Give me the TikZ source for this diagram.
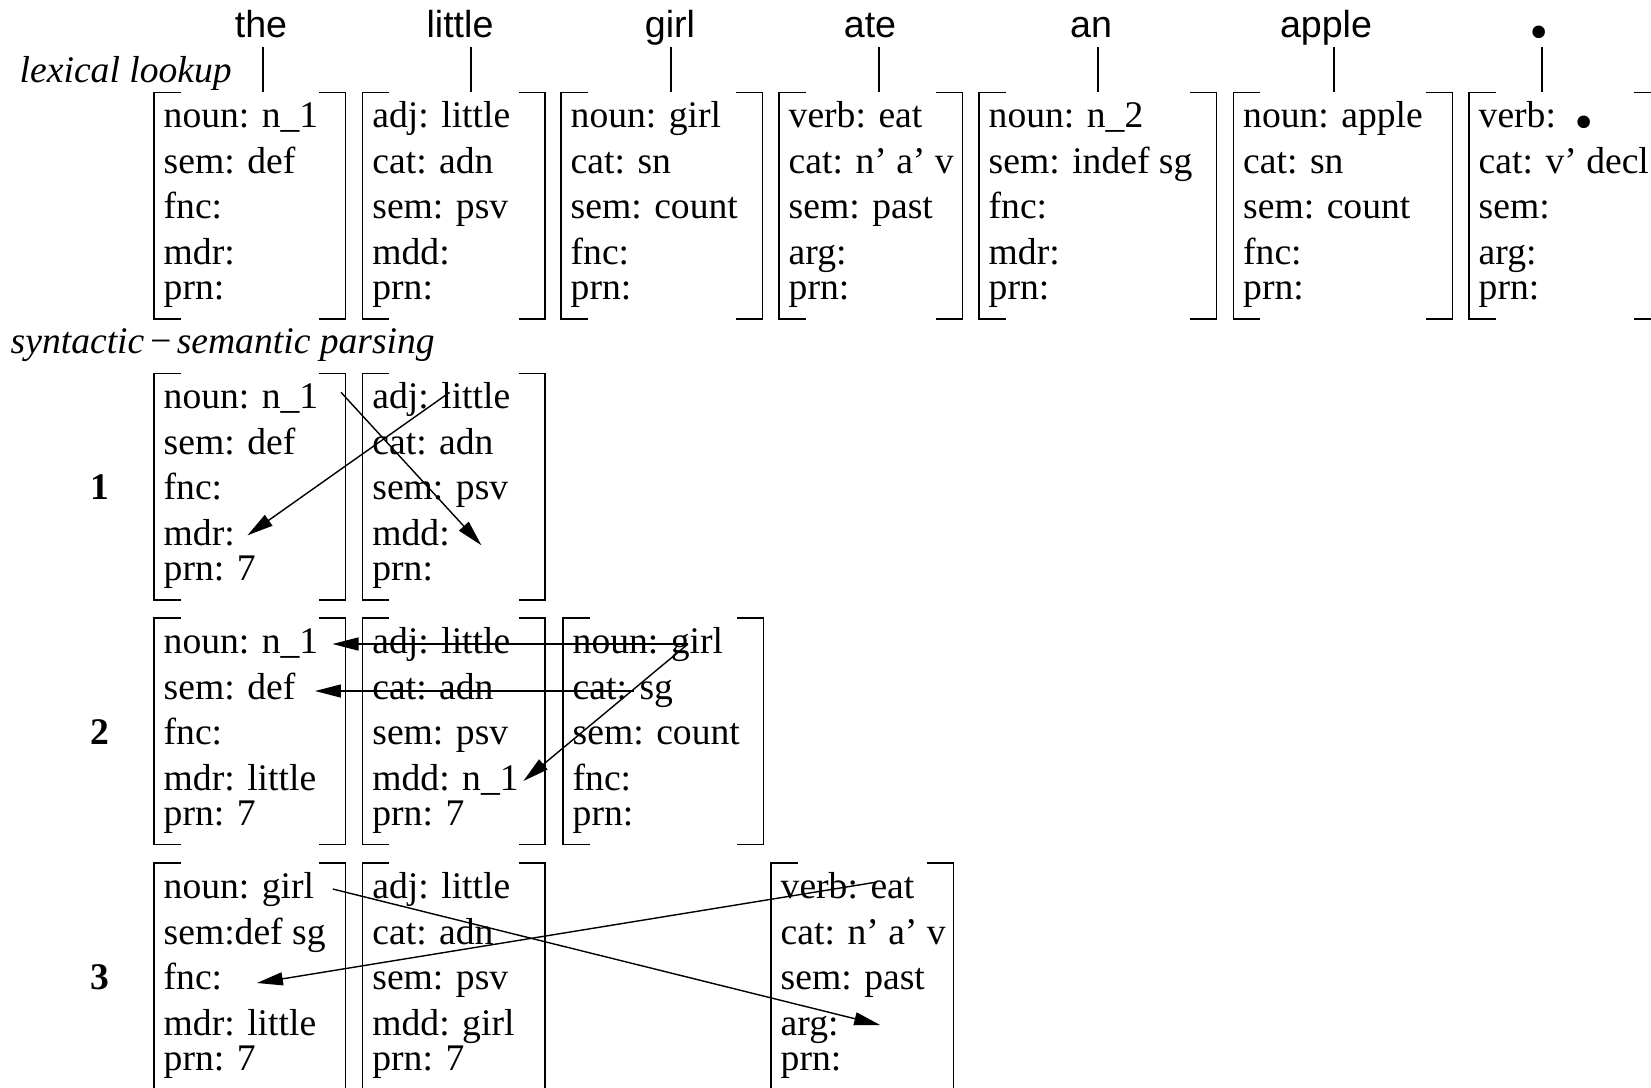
\documentclass[tikz,border=0pt]{standalone}
\usepackage{fontspec}
\setmainfont{Liberation Serif}
\setsansfont{Liberation Sans}
\usetikzlibrary{arrows.meta}

% enlarged full stop of the sentence
\newcommand{\sentdot}{\smash{\fontsize{22}{22}\selectfont\rmfamily\bfseries .}}

% bracketed proplet: name, x, y (top), width, five attribute lines
\newcommand{\proplet}[9]{%
    \node[frame, minimum width=#4cm, anchor=north west] (#1) at (#2,#3) {};
    \draw[brk] ([xshift=2.65mm]#1.north west) -- (#1.north west)
        -- (#1.south west) -- ++(2.65mm,0);
    \draw[brk] ([xshift=-2.65mm]#1.north east) -- (#1.north east)
        -- (#1.south east) -- ++(-2.65mm,0);
    \node[attr] (#1-1) at ([shift={(0.09,-0.35)}]#1.north west) {#5};
    \node[attr] (#1-2) at ([shift={(0.09,-0.81)}]#1.north west) {#6};
    \node[attr] (#1-3) at ([shift={(0.09,-1.26)}]#1.north west) {#7};
    \node[attr] (#1-4) at ([shift={(0.09,-1.72)}]#1.north west) {#8};
    \node[attr] (#1-5) at ([shift={(0.09,-2.07)}]#1.north west) {#9};
}

\begin{document}
\begin{tikzpicture}[
    font=\fontsize{10.7}{12.8}\selectfont,
    frame/.style={rectangle, inner sep=0pt, minimum height=2.25cm},
    brk/.style={line width=0.45pt},
    attr/.style={anchor=base west, inner sep=0pt},
    word/.style={anchor=base, inner sep=0pt,
        font=\fontsize{10.7}{12.8}\selectfont\sffamily},
    tick/.style={line width=0.45pt},
    link/.style={-{Triangle[length=2.6mm, width=1.3mm]}, line width=0.4pt},
    phase/.style={anchor=base west, inner sep=0pt,
        font=\fontsize{10.7}{12.8}\selectfont\itshape},
    rowno/.style={anchor=base, inner sep=0pt,
        font=\fontsize{10.7}{12.8}\selectfont\bfseries}
]
    \useasboundingbox (0,0) rectangle (16.51,-10.87);

    % surface of the sentence
    \node[word] (w1) at (2.61,-0.37) {the};
    \node[word] (w2) at (4.60,-0.37) {little};
    \node[word] (w3) at (6.70,-0.37) {girl};
    \node[word] (w4) at (8.70,-0.37) {ate};
    \node[word] (w5) at (10.91,-0.37) {an};
    \node[word] (w6) at (13.26,-0.37) {apple};
    \node[word] (w7) at (15.39,-0.37) {\sentdot};

    % lexical lookup
    \node[phase] (lex) at (0.19,-0.82) {lexical lookup};
    \proplet{lex1}{1.54}{-0.923}{1.90}{noun: n\_1}{sem: def}{fnc:}{mdr:}{prn:}
    \proplet{lex2}{3.627}{-0.923}{1.81}{adj: little}{cat: adn}{sem: psv}{mdd:}{prn:}
    \proplet{lex3}{5.61}{-0.923}{2.00}{noun: girl}{cat: sn}{sem: count}{fnc:}{prn:}
    \proplet{lex4}{7.79}{-0.923}{1.82}{verb: eat}{cat: n' a' v}{sem: past}{arg:}{prn:}
    \proplet{lex5}{9.79}{-0.923}{2.36}{noun: n\_2}{sem: indef sg}{fnc:}{mdr:}{prn:}
    \proplet{lex6}{12.335}{-0.923}{2.175}{noun: apple}{cat: sn}{sem: count}{fnc:}{prn:}
    \proplet{lex7}{14.69}{-0.923}{1.90}{verb:~~\sentdot}{cat: v' decl}{sem:}{arg:}{prn:}

    \foreach \n/\x in {1/2.63, 2/4.71, 3/6.71, 4/8.79, 5/10.98, 6/13.34, 7/15.42} {
        \coordinate (t\n) at (\x,-0.47);
        \draw[tick] (t\n) -- (t\n |- lex\n.north);
    }

    % syntactic-semantic parsing
    \node[phase] (parse) at (0.10,-3.53) {syntactic\kern1pt−\kern1pt semantic parsing};

    \node[rowno] (s1) at (1.00,-4.99) {1};
    \proplet{r1a}{1.54}{-3.733}{1.90}{noun: n\_1}{sem: def}{fnc:}{mdr:}{prn: 7}
    \proplet{r1b}{3.627}{-3.733}{1.81}{adj: little}{cat: adn}{sem: psv}{mdd:}{prn:}

    \node[rowno] (s2) at (1.00,-7.44) {2};
    \proplet{r2a}{1.54}{-6.18}{1.90}{noun: n\_1}{sem: def}{fnc:}{mdr: little}{prn: 7}
    \proplet{r2b}{3.627}{-6.18}{1.81}{adj: little}{cat: adn}{sem: psv}{mdd: n\_1}{prn: 7}
    \proplet{r2c}{5.63}{-6.18}{1.99}{noun: girl}{cat: sg}{sem: count}{fnc:}{prn:}

    \node[rowno] (s3) at (1.00,-9.89) {3};
    \proplet{r3a}{1.54}{-8.63}{1.90}{noun: girl}{sem:def sg}{fnc:}{mdr: little}{prn: 7}
    \proplet{r3b}{3.627}{-8.63}{1.81}{adj: little}{cat: adn}{sem: psv}{mdd: girl}{prn: 7}
    \proplet{r3d}{7.71}{-8.63}{1.81}{verb: eat}{cat: n' a' v}{sem: past}{arg:}{prn:}

    % copying of values, step 1
    \draw[link] ([shift={(0.22,0.16)}]r1a-1.base east) -- ([xshift=0.31cm]r1b-4.base east);
    \draw[link] ([shift={(0.78,0.16)}]r1b-1.base west) -- ([shift={(0.12,0.10)}]r1a-4.base east);

    % step 2
    \draw[link] ([shift={(1.16,0.09)}]r2c-1.base west) -- ([shift={(0.135,0.09)}]r2a-1.base east);
    \draw[link] ([shift={(0.62,0.08)}]r2c-2.base west) -- ([shift={(0.19,0.08)}]r2a-2.base east);
    \draw[link] ([shift={(1.16,0.09)}]r2c-1.base west) -- ([shift={(0.04,0.09)}]r2b-4.base east);

    % step 3
    \draw[link] ([shift={(0.18,0.09)}]r3a-1.base east) -- ([shift={(0.41,0.10)}]r3d-4.base east);
    \draw[link] ([shift={(0.97,0.16)}]r3d-1.base west) -- ([shift={(0.34,0.06)}]r3a-3.base east);
\end{tikzpicture}
\end{document}
